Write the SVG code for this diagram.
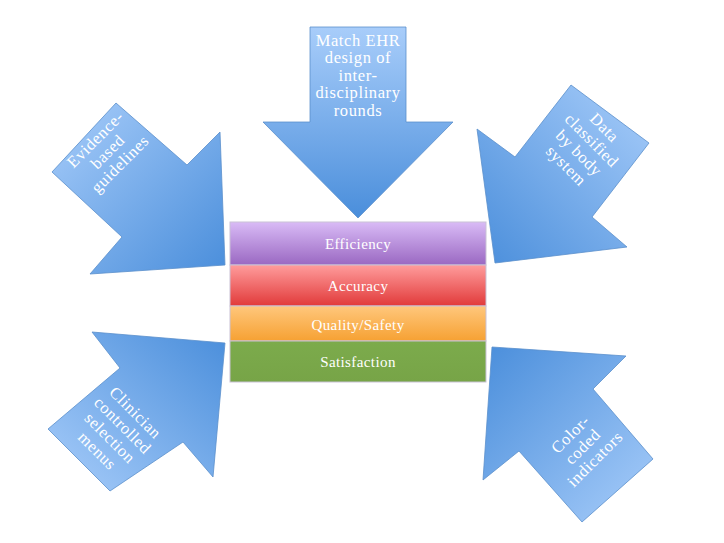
<svg xmlns="http://www.w3.org/2000/svg" width="724" height="543" viewBox="0 0 724 543">
<style>
.arrow{stroke:#5b8fcb;stroke-width:0.8;stroke-linejoin:miter}
.at{font-family:"Liberation Serif","Times New Roman",serif;font-size:16.5px;fill:#ffffff;text-anchor:middle;letter-spacing:0.6px}
.bt{font-family:"Liberation Serif","Times New Roman",serif;font-size:15px;fill:#ffffff;text-anchor:middle;letter-spacing:0.4px}
.bar{stroke:#c9c2d6;stroke-width:1}
</style>
<defs>
<linearGradient id="gTop" x1="0" y1="0" x2="0" y2="1"><stop offset="0" stop-color="#a8cdfa"/><stop offset="1" stop-color="#4a8edb"/></linearGradient>
<linearGradient id="gTL" x1="0" y1="0" x2="1" y2="1"><stop offset="0" stop-color="#a8cdfa"/><stop offset="1" stop-color="#4a8edb"/></linearGradient>
<linearGradient id="gTR" x1="1" y1="0" x2="0" y2="1"><stop offset="0" stop-color="#a8cdfa"/><stop offset="1" stop-color="#4a8edb"/></linearGradient>
<linearGradient id="gBL" x1="0" y1="1" x2="1" y2="0"><stop offset="0" stop-color="#a8cdfa"/><stop offset="1" stop-color="#4a8edb"/></linearGradient>
<linearGradient id="gBR" x1="1" y1="1" x2="0" y2="0"><stop offset="0" stop-color="#a8cdfa"/><stop offset="1" stop-color="#4a8edb"/></linearGradient>
<linearGradient id="gEff" x1="0" y1="0" x2="0" y2="1"><stop offset="0" stop-color="#d9bbf6"/><stop offset="1" stop-color="#9a68c2"/></linearGradient>
<linearGradient id="gAcc" x1="0" y1="0" x2="0" y2="1"><stop offset="0" stop-color="#ff9c9c"/><stop offset="1" stop-color="#e13a3a"/></linearGradient>
<linearGradient id="gQual" x1="0" y1="0" x2="0" y2="1"><stop offset="0" stop-color="#ffc77c"/><stop offset="1" stop-color="#f6a133"/></linearGradient>
<linearGradient id="gSat" x1="0" y1="0" x2="0" y2="1"><stop offset="0" stop-color="#7cab4c"/><stop offset="1" stop-color="#77a447"/></linearGradient>
</defs>
<rect width="724" height="543" fill="#ffffff"/>
<g id="connectors"/>
<g id="arrow-top">
<polygon class="arrow" fill="url(#gTop)" points="310,27 406,27 406,122 453,122 358,218 263,122 310,122"/>
<text class="at" x="358" y="45.5">Match EHR</text>
<text class="at" x="358" y="63">design of</text>
<text class="at" x="358" y="80.5">inter-</text>
<text class="at" x="358" y="98">disciplinary</text>
<text class="at" x="358" y="115.5">rounds</text>
</g>
<g id="arrow-evidence">
<polygon class="arrow" fill="url(#gTL)" points="52,172 116,103 187,165 220,132 225,265 90,274 122,237"/>
<g transform="translate(108,152) rotate(-45)">
<text class="at" x="0" y="-12.5">Evidence-</text>
<text class="at" x="0" y="5">based</text>
<text class="at" x="0" y="22.5">guidelines</text>
</g>
</g>
<g id="arrow-data">
<polygon class="arrow" fill="url(#gTR)" points="571,85 649,143 592,217 627,247 495,263 477,129 515,157"/>
<g transform="translate(585,147) rotate(45)">
<text class="at" x="0" y="-22">Data</text>
<text class="at" x="0" y="-4">classified</text>
<text class="at" x="0" y="14">by body</text>
<text class="at" x="0" y="32">system</text>
</g>
</g>
<g id="arrow-clinician">
<polygon class="arrow" fill="url(#gBL)" points="48,429 120,368 92,332 225,343 213,477 183,442 110,491"/>
<g transform="translate(116,432) rotate(45)">
<text class="at" x="0" y="-22">Clinician</text>
<text class="at" x="0" y="-4">controlled</text>
<text class="at" x="0" y="14">selection</text>
<text class="at" x="0" y="32">menus</text>
</g>
</g>
<g id="arrow-color">
<polygon class="arrow" fill="url(#gBR)" points="653,459 582,522 519,451 483,480 492,347 626,356 593,389"/>
<g transform="translate(583,447) rotate(-45)">
<text class="at" x="0" y="-12.5">Color-</text>
<text class="at" x="0" y="5">coded</text>
<text class="at" x="0" y="22.5">indicators</text>
</g>
</g>
<g id="bar-efficiency">
<rect class="bar" x="230" y="222" width="256" height="43" fill="url(#gEff)"/>
<text class="bt" x="358" y="249">Efficiency</text>
</g>
<g id="bar-accuracy">
<rect class="bar" x="230" y="265" width="256" height="41" fill="url(#gAcc)"/>
<text class="bt" x="358" y="291">Accuracy</text>
</g>
<g id="bar-quality">
<rect class="bar" x="230" y="306" width="256" height="35" fill="url(#gQual)"/>
<text class="bt" x="358" y="330">Quality/Safety</text>
</g>
<g id="bar-satisfaction">
<rect class="bar" x="230" y="341" width="256" height="41" fill="url(#gSat)"/>
<text class="bt" x="358" y="367">Satisfaction</text>
</g>
</svg>
